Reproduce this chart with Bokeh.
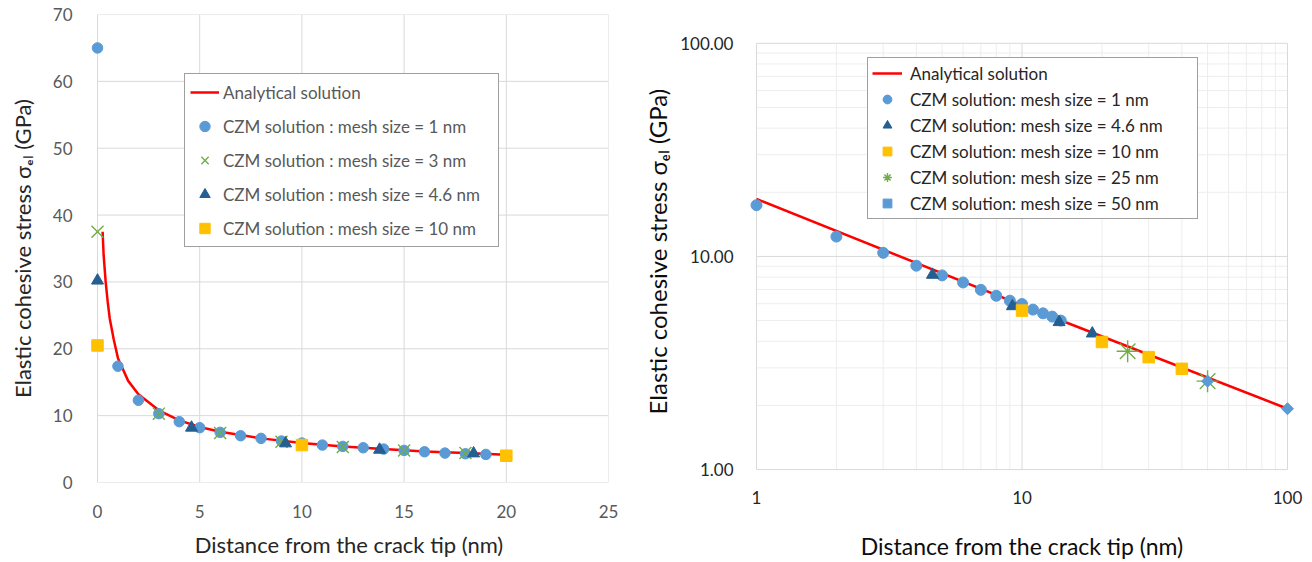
import math
from bokeh.plotting import figure
from bokeh.layouts import row
from bokeh.models import Legend, LegendItem, FixedTicker, Range1d, NumeralTickFormatter
from bokeh.embed import file_html
from bokeh.resources import INLINE

# ---------------- data: left (linear) panel ----------------
ana_x_lin = [0.25, 0.3, 0.4, 0.5, 0.6, 0.8, 1.0, 1.5, 2.0, 3.0, 4.0, 5.0, 6.0, 8.0, 10.0, 12.0, 14.0, 16.0, 18.0, 20.0]
ana_y_lin = [37.5, 34.0, 30.0, 27.0, 24.5, 21.3, 18.6, 15.2, 13.2, 10.8, 9.3, 8.3, 7.6, 6.6, 5.9, 5.4, 5.0, 4.65, 4.4, 4.15]

m1_x = [0, 1, 2, 3, 4, 5, 6, 7, 8, 9, 10, 11, 12, 13, 14, 15, 16, 17, 18, 19]
m1_y = [65.0, 17.4, 12.3, 10.3, 9.1, 8.2, 7.5, 7.0, 6.6, 6.2, 5.9, 5.6, 5.4, 5.2, 5.0, 4.8, 4.6, 4.4, 4.3, 4.2]

m3_x = [0, 3, 6, 9, 12, 15, 18]
m3_y = [37.5, 10.3, 7.4, 6.1, 5.3, 4.8, 4.4]

m46_x = [0, 4.6, 9.2, 13.8, 18.4]
m46_y = [30.2, 8.2, 5.85, 4.9, 4.35]

m10_x = [0, 10, 20]
m10_y = [20.5, 5.6, 4.0]

# ---------------- data: right (log-log) panel ----------------
ana_x_log = [1, 10, 100]
ana_y_log = [18.6, 5.9, 1.93]

r1_x = [1, 2, 3, 4, 5, 6, 7, 8, 9, 10, 11, 12, 13, 14]
r1_y = [17.4, 12.4, 10.4, 9.05, 8.15, 7.55, 6.97, 6.54, 6.2, 5.98, 5.63, 5.41, 5.22, 5.0]

r46_x = [4.6, 9.2, 13.8, 18.4]
r46_y = [8.2, 5.84, 4.92, 4.35]

r10_x = [10, 20, 30, 40]
r10_y = [5.57, 3.97, 3.37, 2.97]

r25_x = [25, 50]
r25_y = [3.59, 2.6]

r50_x = [50, 100]
r50_y = [2.6, 1.93]

lin_xticks = [0, 5, 10, 15, 20, 25]
lin_yticks = [0, 10, 20, 30, 40, 50, 60, 70]
log_ticks = [1, 10, 100]
log_minor = [2, 3, 4, 5, 6, 7, 8, 9, 20, 30, 40, 50, 60, 70, 80, 90]

# ---------------- styles ----------------
FONT = "Lato"
RED = "#FF0000"
BLUE = "#5B9BD5"
GREEN = "#70AD47"
NAVY = "#255E91"
GOLD = "#FFC000"
GRID = "#D9D9D9"
MINOR = "#EDEDED"

TOP, BOTTOM = 14, 77          # shared outer borders (rows align frames)
H = 562
PAD = 8                       # unclipped margin so edge markers stay whole


def grid_lines(p, xs, ys, x0, x1, y0, y1, color):
    """vertical lines at xs over y0..y1 and horizontal lines at ys over x0..x1"""
    if xs:
        p.segment(x0=xs, y0=[y0] * len(xs), x1=xs, y1=[y1] * len(xs), line_color=color, line_width=1)
    if ys:
        p.segment(x0=[x0] * len(ys), y0=ys, x1=[x1] * len(ys), y1=ys, line_color=color, line_width=1)


# ================= left panel =================
lx0, lx1 = lin_xticks[0], lin_xticks[-1]
ly0, ly1 = lin_yticks[0], lin_yticks[-1]
px_per_x = (608 - 97) / (lx1 - lx0)
p1 = figure(width=640, height=H, x_range=Range1d(lx0 - PAD / px_per_x, lx1), y_range=Range1d(ly0, ly1),
            output_backend="svg", toolbar_location=None,
            min_border_left=97 - PAD, min_border_right=32, min_border_top=TOP, min_border_bottom=BOTTOM)
p1.outline_line_color = None
p1.xaxis.ticker = FixedTicker(ticks=lin_xticks)
p1.yaxis.ticker = FixedTicker(ticks=lin_yticks)
for ax in (p1.xaxis[0], p1.yaxis[0]):
    ax.axis_line_color = None
    ax.major_tick_line_color = None
    ax.minor_tick_line_color = None
    ax.major_label_text_font = FONT
    ax.major_label_text_font_size = "17px"
    ax.major_label_text_color = "#595959"
    ax.axis_label_text_font = FONT
    ax.axis_label_text_font_style = "normal"
    ax.axis_label_text_font_size = "22px"
    ax.axis_label_text_color = "#262626"
p1.xaxis.major_label_standoff = 16
p1.yaxis.major_label_standoff = 19 - PAD
p1.xaxis.axis_label = "Distance from the crack tip (nm)"
p1.xaxis.axis_label_standoff = 10
p1.yaxis.axis_label = "Elastic cohesive stress σₑₗ (GPa)"
p1.yaxis.axis_label_standoff = 14
p1.xgrid.grid_line_color = None
p1.ygrid.grid_line_color = None
grid_lines(p1, lin_xticks, lin_yticks, lx0, lx1, ly0, ly1, GRID)

l_ana = p1.line(ana_x_lin, ana_y_lin, line_color=RED, line_width=2.5)
l_1 = p1.scatter(m1_x, m1_y, marker="circle", size=10.5, fill_color=BLUE, line_color=BLUE)
l_3 = p1.scatter(m3_x, m3_y, marker="x", size=17, line_color=GREEN, line_width=1.4)
l_46 = p1.scatter(m46_x, m46_y, marker="triangle", size=12, fill_color=NAVY, line_color=NAVY)
l_10 = p1.scatter(m10_x, m10_y, marker="square", size=11.5, fill_color=GOLD, line_color=GOLD)

leg1 = Legend(items=[
    LegendItem(label="Analytical solution", renderers=[l_ana]),
    LegendItem(label="CZM solution : mesh size = 1 nm", renderers=[l_1]),
    LegendItem(label="CZM solution : mesh size = 3 nm", renderers=[l_3]),
    LegendItem(label="CZM solution : mesh size = 4.6 nm", renderers=[l_46]),
    LegendItem(label="CZM solution : mesh size = 10 nm", renderers=[l_10]),
], location=(184 - (97 - PAD), 235))
leg1.label_text_font = FONT
leg1.label_text_font_size = "17px"
leg1.label_text_color = "#595959"
leg1.glyph_width = 29
leg1.glyph_height = 26
leg1.label_height = 26
leg1.label_standoff = 4
leg1.label_width = 270
leg1.spacing = 8
leg1.padding = 5
leg1.margin = 0
leg1.border_line_color = "#404040"
leg1.border_line_width = 1.2
leg1.background_fill_alpha = 1.0
p1.add_layout(leg1)

# ================= right panel =================
# frame spans the same rows as the left panel; the ranges are widened so that
# the decade box 1..100 sits at the reference's pixel position (756..1287, 43..472)
decy = (472 - 43) / 2.0
decx = (1287 - 756) / 2.0
y_lo = 10 ** (-(H - BOTTOM - 472) / decy)
y_hi = 10 ** (2 + (43 - TOP) / decy)
x_lo = 10 ** (-PAD / decx)
x_hi = 10 ** (2 + PAD / decx)

p2 = figure(width=672, height=H, x_axis_type="log", y_axis_type="log",
            x_range=Range1d(x_lo, x_hi), y_range=Range1d(y_lo, y_hi),
            output_backend="svg", toolbar_location=None,
            min_border_left=116 - PAD, min_border_right=25 - PAD, min_border_top=TOP, min_border_bottom=BOTTOM)
p2.outline_line_color = None
p2.xaxis.ticker = FixedTicker(ticks=log_ticks, minor_ticks=log_minor)
p2.yaxis.ticker = FixedTicker(ticks=log_ticks, minor_ticks=log_minor)
p2.xaxis.formatter = NumeralTickFormatter(format="0")
p2.yaxis.formatter = NumeralTickFormatter(format="0.00")
for ax in (p2.xaxis[0], p2.yaxis[0]):
    ax.axis_line_color = None
    ax.major_tick_line_color = None
    ax.minor_tick_line_color = None
    ax.major_label_text_font = FONT
    ax.major_label_text_font_size = "17px"
    ax.major_label_text_color = "#262626"
    ax.axis_label_text_font = FONT
    ax.axis_label_text_font_style = "normal"
    ax.axis_label_text_font_size = "23px"
    ax.axis_label_text_color = "#0D0D0D"
p2.xaxis.major_label_standoff = 2
p2.yaxis.major_label_standoff = 17 - PAD
p2.xaxis.axis_label = "Distance from the crack tip (nm)"
p2.xaxis.axis_label_standoff = 25
p2.yaxis.axis_label = "Elastic cohesive stress  σₑₗ (GPa)"
p2.yaxis.axis_label_standoff = 5
p2.yaxis.axis_label_text_font_size = "24px"
p2.xgrid.grid_line_color = None
p2.ygrid.grid_line_color = None

grid_lines(p2, log_minor, log_minor, log_ticks[0], log_ticks[-1], log_ticks[0], log_ticks[-1], MINOR)
grid_lines(p2, log_ticks, log_ticks, log_ticks[0], log_ticks[-1], log_ticks[0], log_ticks[-1], GRID)

r_ana = p2.line(ana_x_log, ana_y_log, line_color=RED, line_width=2.5)
r_1 = p2.scatter(r1_x, r1_y, marker="circle", size=11, fill_color=BLUE, line_color=BLUE)
r_46 = p2.scatter(r46_x, r46_y, marker="triangle", size=12, fill_color=NAVY, line_color=NAVY)
r_10 = p2.scatter(r10_x, r10_y, marker="square", size=11.5, fill_color=GOLD, line_color=GOLD)
r_25 = p2.scatter(r25_x, r25_y, marker="asterisk", size=22, line_color=GREEN, line_width=1.4)
r_50 = p2.scatter(r50_x, r50_y, marker="square", angle=math.pi / 4, size=8.5,
                  fill_color=BLUE, line_color=BLUE)

leg2 = Legend(items=[
    LegendItem(label="Analytical solution", renderers=[r_ana]),
    LegendItem(label="CZM solution: mesh size = 1 nm", renderers=[r_1]),
    LegendItem(label="CZM solution: mesh size = 4.6 nm", renderers=[r_46]),
    LegendItem(label="CZM solution: mesh size = 10 nm", renderers=[r_10]),
    LegendItem(label="CZM solution: mesh size = 25 nm", renderers=[r_25]),
    LegendItem(label="CZM solution: mesh size = 50 nm", renderers=[r_50]),
], location=(867 - (756 - PAD), 263))
leg2.label_text_font = FONT
leg2.label_text_font_size = "17px"
leg2.label_text_color = "#262626"
leg2.glyph_width = 30
leg2.glyph_height = 22
leg2.label_height = 22
leg2.label_standoff = 8
leg2.label_width = 283
leg2.spacing = 4
leg2.padding = 4
leg2.margin = 0
leg2.border_line_color = "#404040"
leg2.border_line_width = 1.2
leg2.background_fill_alpha = 1.0
p2.add_layout(leg2)

layout = row(p1, p2)
open("out.html", "w").write(file_html(layout, INLINE))
